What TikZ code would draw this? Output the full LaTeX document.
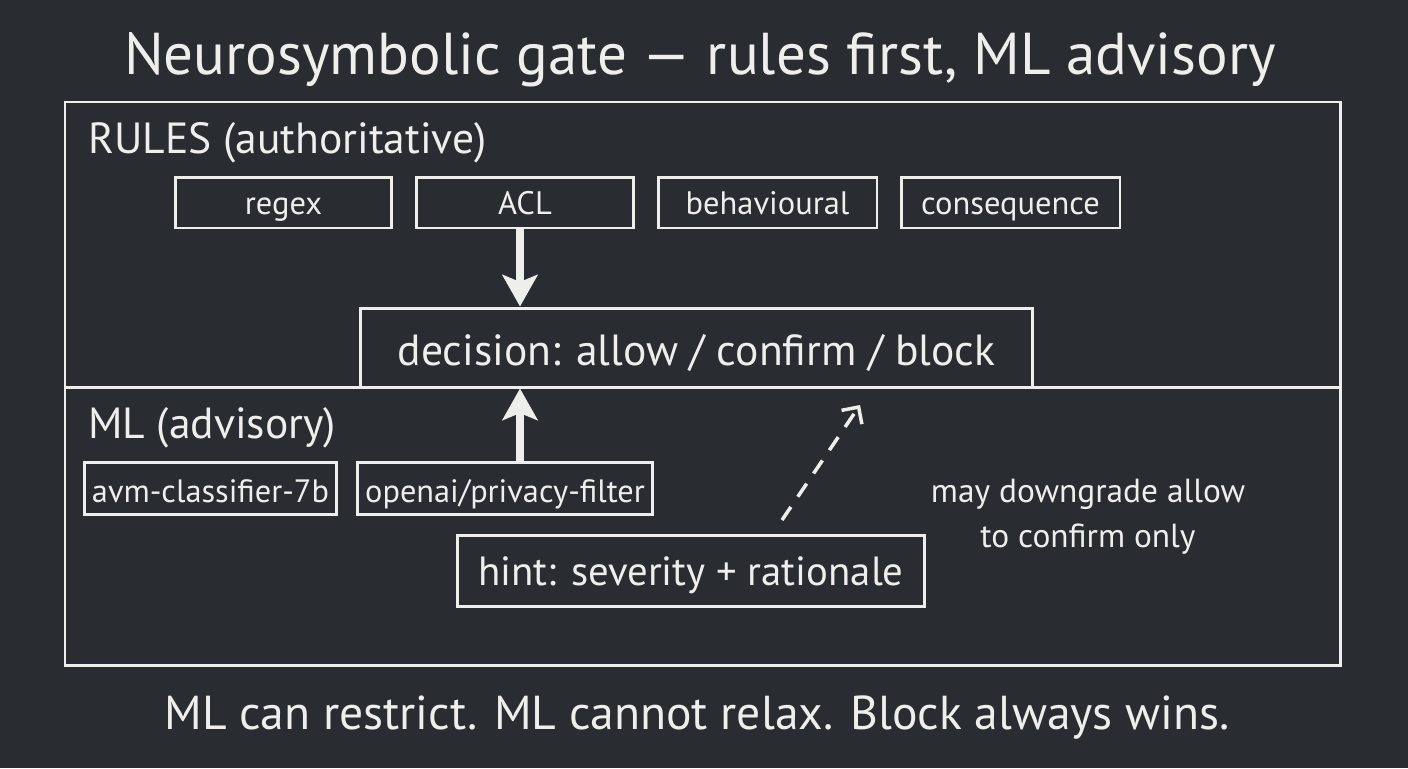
\documentclass[tikz,border=0pt]{standalone}
\usepackage{fontspec}
\setmainfont{PT Sans}
\usepackage{tikz}
\usetikzlibrary{arrows.meta}
\usetikzlibrary{positioning}

\definecolor{board}{RGB}{41,44,49}
\definecolor{chalk}{RGB}{238,238,236}

\begin{document}
\begin{tikzpicture}[x=0.02cm,y=-0.02cm,
   chalkline/.style={draw=chalk,line width=1.7pt},
   box/.style={chalkline,inner sep=2pt,text=chalk,text height=17pt,text depth=3pt,font=\fontsize{18.5}{20}\selectfont},
   mlbox/.style={box,text height=19pt,text depth=3pt,font=\fontsize{18.4}{20}\selectfont},
   bigbox/.style={box,text height=24pt,text depth=4pt,font=\fontsize{24.8}{28}\selectfont},
   label/.style={text=chalk,anchor=west,inner sep=0pt,font=\fontsize{24.8}{28}\selectfont},
   bigarrow/.style={draw=chalk,line width=4.5pt,-{Stealth[length=18pt,width=20pt,inset=4pt]}},
   hintarrow/.style={draw=chalk,line width=2pt,dash pattern=on 9pt off 7pt,-{Straight Barb[length=7pt,width=14pt]}}
  ]
\fill[board] (0,0) rectangle (1408,768);

% title
\node[text=chalk,font=\fontsize{33.6}{38}\selectfont] (title) at (700,60) {Neurosymbolic gate — rules first, ML advisory};

% panel
\draw[chalkline] (65,102) rectangle (1340,665);
\draw[chalkline] (65,387) -- (1340,387);

% rules part
\node[label] (rules) at (88,143) {RULES (authoritative)};
\node[box,minimum width=4.34cm,minimum height=1.02cm] (regex) at (283.5,202.5) {regex};
\node[box,minimum width=4.36cm,minimum height=1.02cm] (acl) at (525,202.5) {ACL};
\node[box,minimum width=4.38cm,minimum height=1.02cm] (behav) at (767.5,202.5) {behavioural};
\node[box,minimum width=4.38cm,minimum height=1.02cm] (conseq) at (1010.5,202.5) {consequence};
\node[bigbox,fill=board,minimum width=13.46cm,minimum height=1.58cm] (decision) at (696.5,347.5) {decision: allow / confirm / block};

% ml part
\node[label] (ml) at (88,428) {ML (advisory)};
\node[mlbox,minimum width=5.06cm,minimum height=1.04cm] (avm) at (210.5,488) {avm-classifier-7b};
\node[mlbox,minimum width=5.92cm,minimum height=1.04cm] (privacy) at (505,488) {openai/privacy-filter};
\node[bigbox,text height=21pt,text depth=4.5pt,font=\fontsize{23.2}{26}\selectfont,minimum width=9.36cm,minimum height=1.42cm] (hint) at (691,570.5) {hint: severity + rationale};
\node[text=chalk,align=center,font=\fontsize{19}{25.5}\selectfont] (note) at (1088,517) {may downgrade allow\\to confirm only};

% arrows
\draw[bigarrow] (acl.south -| 520,0) -- (decision.north -| 520,0);
\draw[bigarrow] (privacy.north -| 520,0) -- (decision.south -| 520,0);
\coordinate (hstart) at (782,520);
\coordinate (htip) at (860,405);
\draw[hintarrow] (hstart) -- (htip);

% bottom line
\node[text=chalk,font=\fontsize{27.1}{31}\selectfont] (motto) at (697,718) {ML can restrict. ML cannot relax. Block always wins.};
\end{tikzpicture}
\end{document}
